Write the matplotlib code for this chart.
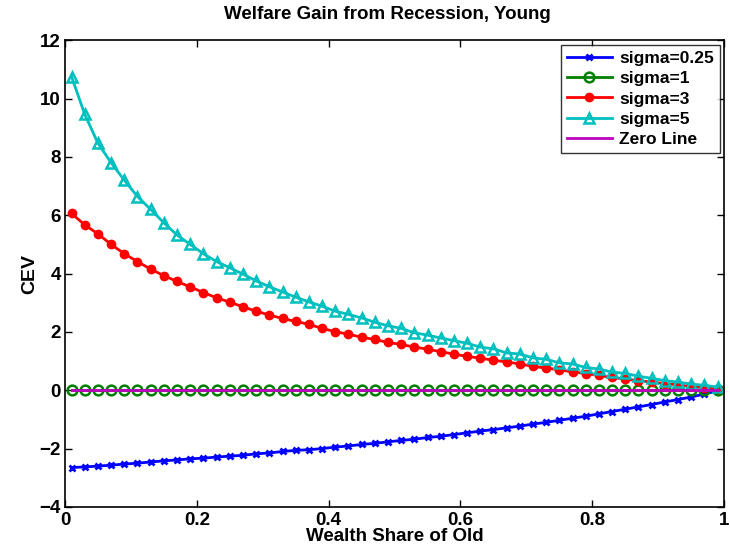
import numpy as np
import matplotlib
matplotlib.use("Agg")
import matplotlib.pyplot as plt

# wealth share grid 0.01:0.02:0.99
share = np.round(np.arange(0.01, 1.0, 0.02), 2)

cev_s025 = [-2.65, -2.63, -2.60, -2.57, -2.53, -2.50, -2.46, -2.42, -2.39, -2.35,
            -2.33, -2.29, -2.26, -2.23, -2.18, -2.15, -2.10, -2.06, -2.04, -2.00,
            -1.95, -1.91, -1.86, -1.82, -1.77, -1.72, -1.68, -1.62, -1.58, -1.52,
            -1.46, -1.40, -1.35, -1.29, -1.23, -1.16, -1.10, -1.03, -0.96, -0.89,
            -0.81, -0.73, -0.65, -0.57, -0.49, -0.40, -0.32, -0.23, -0.13, -0.02]
cev_s1 = [0.0] * 50
cev_s3 = [6.06, 5.67, 5.36, 5.00, 4.68, 4.41, 4.15, 3.93, 3.73, 3.54,
          3.35, 3.17, 3.02, 2.86, 2.71, 2.58, 2.46, 2.36, 2.26, 2.12,
          2.01, 1.92, 1.82, 1.74, 1.64, 1.57, 1.48, 1.41, 1.32, 1.24,
          1.16, 1.10, 1.03, 0.97, 0.90, 0.82, 0.76, 0.70, 0.63, 0.57,
          0.51, 0.44, 0.38, 0.33, 0.28, 0.23, 0.18, 0.13, 0.09, 0.04]
cev_s5 = [10.75, 9.46, 8.47, 7.80, 7.20, 6.64, 6.20, 5.74, 5.32, 5.00,
          4.68, 4.41, 4.20, 3.98, 3.75, 3.55, 3.37, 3.19, 3.03, 2.88,
          2.71, 2.60, 2.48, 2.33, 2.21, 2.12, 1.97, 1.89, 1.79, 1.70,
          1.61, 1.48, 1.42, 1.28, 1.24, 1.11, 1.06, 0.94, 0.90, 0.78,
          0.73, 0.62, 0.58, 0.48, 0.41, 0.33, 0.28, 0.21, 0.17, 0.11]
zero_line = [0.0] * 50

plt.rcParams["font.family"] = ["Liberation Sans", "DejaVu Sans"]
plt.rcParams["font.weight"] = "bold"

fig = plt.figure(figsize=(7.3, 5.51), dpi=100)
ax = fig.add_axes([0.089, 0.080, 0.903, 0.847])

ax.plot(share, cev_s025, color=(0, 0, 1), lw=2, marker="x", ms=5, mew=2,
        label="sigma=0.25")
ax.plot(share, cev_s1, color=(0, 0.5, 0), lw=2, marker="o", ms=7, mew=1.8,
        mfc="none", label="sigma=1")
ax.plot(share, cev_s3, color=(1, 0, 0), lw=2, marker="o", ms=6,
        label="sigma=3")
ax.plot(share, cev_s5, color=(0, 0.75, 0.75), lw=2, marker="^", ms=7.5, mew=1.8,
        mfc="none", label="sigma=5")
ax.plot(share, zero_line, color=(0.75, 0, 0.75), lw=2, label="Zero Line")

ax.set_xlim(0, 1)
ax.set_ylim(-4, 12)
ax.set_xticks([0, 0.2, 0.4, 0.6, 0.8, 1])
ax.set_xticklabels(["0", "0.2", "0.4", "0.6", "0.8", "1"])
ax.set_yticks(range(-4, 13, 2))
ax.tick_params(direction="in", top=True, right=True, length=5, width=1,
               labelsize=13.5)
ax.tick_params(axis="x", pad=4)
ax.tick_params(axis="y", pad=3)
for lbl in ax.get_xticklabels() + ax.get_yticklabels():
    lbl.set_fontweight("bold")
for sp in ax.spines.values():
    sp.set_linewidth(1.2)

# title placed in figure coords to match the original position
fig.text(0.530, 0.973, "Welfare Gain from Recession, Young", fontsize=13.5,
         fontweight="bold", ha="center", va="center")
ax.set_xlabel("Wealth Share of Old", fontsize=13.5, fontweight="bold", labelpad=-1)
ax.set_ylabel("CEV", fontsize=14, fontweight="bold", labelpad=1)

leg = ax.legend(loc="upper right", fontsize=12.5, frameon=True, fancybox=False,
                edgecolor="black", borderaxespad=0.25, handlelength=2.6,
                labelspacing=0.3, borderpad=0.35, handletextpad=0.4)
leg.get_frame().set_linewidth(1.0)
for t in leg.get_texts():
    t.set_fontweight("bold")

fig.savefig("out.png", dpi=100)
